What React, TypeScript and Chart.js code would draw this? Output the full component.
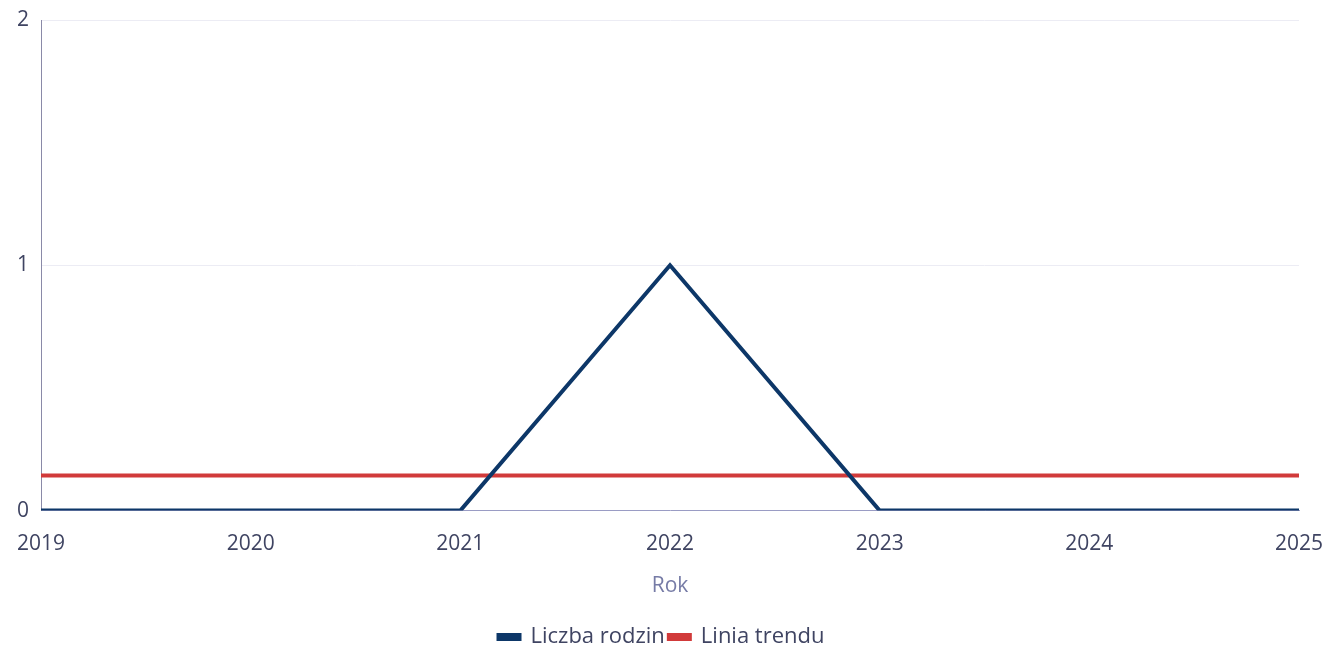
import React, { useEffect, useRef } from "react";
import { Chart, registerables } from "chart.js";

Chart.register(...registerables);

const years = ["2019", "2020", "2021", "2022", "2023", "2024", "2025"];
const liczbaRodzin = [0, 0, 0, 1, 0, 0, 0];
const liniaTrendu = [0.143, 0.143, 0.143, 0.143, 0.143, 0.143, 0.143];
const yTicks = [0, 1, 2];

export default function App() {
  const ref = useRef<HTMLCanvasElement>(null);
  useEffect(() => {
    if (!ref.current) return;
    const font = { family: "'Open Sans', sans-serif", size: 21 };
    const legendFont = { family: "'Open Sans', sans-serif", size: 22 };
    const chart = new Chart(ref.current, {
      type: "line",
      data: {
        labels: years,
        datasets: [
          {
            label: "Liczba rodzin",
            data: liczbaRodzin,
            borderColor: "#0d3768",
            backgroundColor: "#0d3768",
            borderWidth: 4,
            pointRadius: 0,
            tension: 0,
          },
          {
            label: "Linia trendu",
            data: liniaTrendu,
            borderColor: "#d13a3a",
            backgroundColor: "#d13a3a",
            borderWidth: 4,
            pointRadius: 0,
            tension: 0,
          },
        ],
      },
      options: {
        animation: false,
        responsive: true,
        maintainAspectRatio: false,
        layout: { padding: { top: 0, right: 0, left: 0, bottom: -12 } },
        plugins: {
          tooltip: { enabled: false },
          legend: {
            position: "bottom",
            labels: {
              font: legendFont,
              color: "#3f4462",
              boxWidth: 21,
              boxHeight: 4,
              padding: 4,
            },
          },
        },
        scales: {
          x: {
            offset: false,
            grid: { display: false, drawTicks: false },
            border: { color: "#9a9cc4", width: 1 },
            ticks: { font, color: "#3f4462", padding: 21, maxRotation: 0 },
            title: {
              display: true,
              text: "Rok",
              font,
              color: "#767ba6",
              padding: { top: -4, bottom: 23 },
            },
            afterFit: (s: any) => {
              s.paddingRight = 24;
              s.paddingLeft = 0;
            },
          },
          y: {
            min: 0,
            max: 2,
            afterBuildTicks: (axis: any) => {
              axis.ticks = yTicks.map((v) => ({ value: v }));
            },
            grid: { color: "#ececf4", drawTicks: false },
            border: { color: "#8a8aa8", width: 1 },
            ticks: { font, color: "#3f4462", padding: 12 },
            afterFit: (s: any) => {
              s.width = 41;
              s.paddingTop = 20;
              s.paddingBottom = 0;
            },
          },
        },
      },
    });
    return () => chart.destroy();
  }, []);
  return (
    <div style={{ position: "absolute", left: 0, top: 0, width: 1323, height: 646 }}>
      <canvas ref={ref} />
    </div>
  );
}
